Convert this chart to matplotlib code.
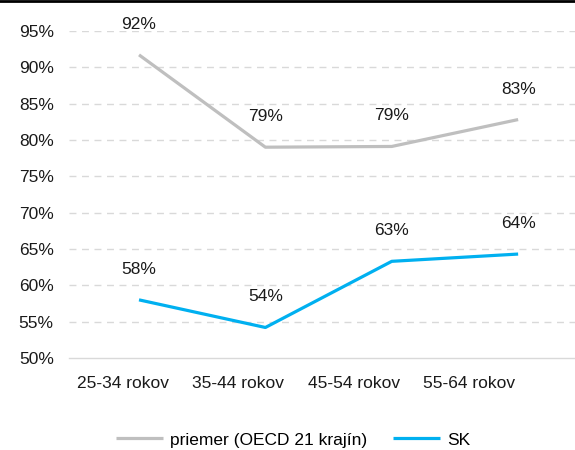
import matplotlib.pyplot as plt
from matplotlib.lines import Line2D

# =======================
# dados
# =======================
kategorie = ['25-34 rokov', '35-44 rokov', '45-54 rokov', '55-64 rokov']
priemer_oecd = [91.7, 79.0, 79.1, 82.8]
sk = [58.0, 54.2, 63.3, 64.3]
oecd_labels = ['92%', '79%', '79%', '83%']
sk_labels = ['58%', '54%', '63%', '64%']
y_ticks = [50, 55, 60, 65, 70, 75, 80, 85, 90, 95]

plt.rcParams['font.family'] = ['Liberation Sans', 'DejaVu Sans']
fs = 12.5

fig = plt.figure(figsize=(5.75, 4.5), dpi=100)
ax = fig.add_axes([0.12, 0.2044, 0.88, 0.727])

x = list(range(len(kategorie)))
ax.plot(x, priemer_oecd, color='#BFBFBF', lw=2.3, label='priemer (OECD 21 krajín)', solid_capstyle='butt')
ax.plot(x, sk, color='#00B0F0', lw=2.3, label='SK', solid_capstyle='butt')

for xi, v, t in zip(x, priemer_oecd, oecd_labels):
    ax.annotate(t, (xi, v), xytext=(0, 22), textcoords='offset points',
                ha='center', va='center', fontsize=fs, color='#1a1a1a')
for xi, v, t in zip(x, sk, sk_labels):
    ax.annotate(t, (xi, v), xytext=(0, 22), textcoords='offset points',
                ha='center', va='center', fontsize=fs, color='#1a1a1a')

ax.set_xlim(-0.554, 3.45)
ax.set_ylim(50, 95)
ax.set_yticks(y_ticks)
ax.set_yticklabels([f'{v}%' for v in y_ticks], fontsize=fs, color='#1a1a1a')

# popisky kategorii su v povodnom grafe trochu posunute
ax.set_xticks([-0.127 + 0.913 * i for i in x])
ax.set_xticklabels(kategorie, fontsize=fs, color='#1a1a1a')
ax.tick_params(axis='both', length=0)
ax.tick_params(axis='y', pad=11)
ax.tick_params(axis='x', pad=13)

for v in y_ticks[1:]:
    ax.axhline(v, color='#D9D9D9', lw=1, ls=(0, (5, 4)), zorder=0)
for s in ['top', 'right', 'left']:
    ax.spines[s].set_visible(False)
ax.spines['bottom'].set_color('#D9D9D9')
ax.spines['bottom'].set_linewidth(1)

fig.legend(loc='center', bbox_to_anchor=(0.51, 1 - 440 / 450), ncol=2, frameon=False,
           fontsize=fs, handlelength=2.7, handletextpad=0.4, columnspacing=1.5)

fig.add_artist(Line2D([0, 1], [0.998, 0.998], transform=fig.transFigure, color='black', lw=2))

plt.savefig('out.png', dpi=100)
